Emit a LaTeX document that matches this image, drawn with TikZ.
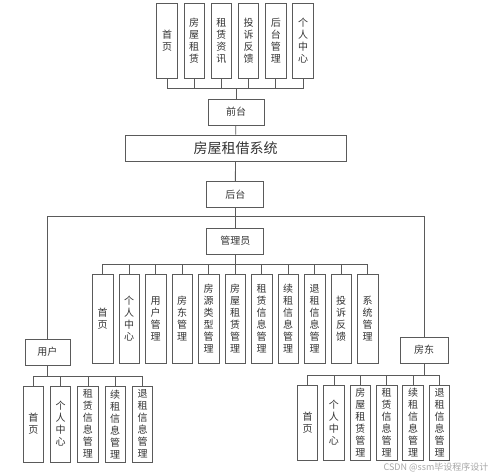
\documentclass[tikz,border=0pt]{standalone}
\usepackage{fontspec}
\newfontfamily\cjk{Noto Sans CJK SC}
\usepackage{tikz}

\definecolor{linegray}{HTML}{5A5A5A}
\definecolor{textgray}{HTML}{333333}

\tikzset{
    box/.style={draw=linegray, line width=0.8pt, inner sep=0pt, text=textgray,
        font=\cjk\fontsize{10}{12}\selectfont, minimum height=26pt},
    leaf/.style={box, anchor=north, align=center, minimum width=20.5pt},
    link/.style={draw=linegray, line width=0.8pt}
}

\begin{document}
\begin{tikzpicture}[x=1pt, y=-1pt]
        \useasboundingbox (0,0) rectangle (499,476);

        % Front end
        \node[leaf, minimum height=75pt] (q1) at (167,3) {首\\页};
        \node[leaf, minimum height=75pt] (q2) at (194.2,3) {房\\屋\\租\\赁};
        \node[leaf, minimum height=75pt] (q3) at (221.4,3) {租\\赁\\资\\讯};
        \node[leaf, minimum height=75pt] (q4) at (248.6,3) {投\\诉\\反\\馈};
        \node[leaf, minimum height=75pt] (q5) at (275.8,3) {后\\台\\管\\理};
        \node[leaf, minimum height=75pt] (q6) at (303,3) {个\\人\\中\\心};
        \node[box, minimum width=56pt] (front) at (236,112) {前台};

        % The system
        \node[box, minimum width=221pt, font=\cjk\fontsize{14}{16}\selectfont] (sys) at (235.5,148) {房屋租借系统};

        % Back end
        \node[box, minimum width=57pt] (back) at (235.3,194.5) {后台};
        \node[box, minimum width=57pt] (admin) at (235.3,241) {管理员};
        \node[box, minimum width=45pt] (user) at (47.5,352) {用户};
        \node[box, minimum width=48pt] (owner) at (424,350) {房东};

        % Admin items
        \node[leaf, minimum height=88.5pt] (a1) at (102.7,274.3) {首\\页};
        \node[leaf, minimum height=88.5pt] (a2) at (129.2,274.3) {个\\人\\中\\心};
        \node[leaf, minimum height=88.5pt] (a3) at (155.7,274.3) {用\\户\\管\\理};
        \node[leaf, minimum height=88.5pt] (a4) at (182.2,274.3) {房\\东\\管\\理};
        \node[leaf, minimum height=88.5pt] (a5) at (208.7,274.3) {房\\源\\类\\型\\管\\理};
        \node[leaf, minimum height=88.5pt] (a6) at (235.2,274.3) {房\\屋\\租\\赁\\管\\理};
        \node[leaf, minimum height=88.5pt] (a7) at (261.7,274.3) {租\\赁\\信\\息\\管\\理};
        \node[leaf, minimum height=88.5pt] (a8) at (288.2,274.3) {续\\租\\信\\息\\管\\理};
        \node[leaf, minimum height=88.5pt] (a9) at (314.7,274.3) {退\\租\\信\\息\\管\\理};
        \node[leaf, minimum height=88.5pt] (a10) at (341.2,274.3) {投\\诉\\反\\馈};
        \node[leaf, minimum height=88.5pt] (a11) at (367.7,274.3) {系\\统\\管\\理};

        % User items
        \node[leaf, minimum height=76pt] (u1) at (33.3,385.7) {首\\页};
        \node[leaf, minimum height=76pt] (u2) at (60.6,385.7) {个\\人\\中\\心};
        \node[leaf, minimum height=76pt] (u3) at (87.9,385.7) {租\\赁\\信\\息\\管\\理};
        \node[leaf, minimum height=76pt] (u4) at (115.2,385.7) {续\\租\\信\\息\\管\\理};
        \node[leaf, minimum height=76pt] (u5) at (142.5,385.7) {退\\租\\信\\息\\管\\理};

        % Owner items
        \node[leaf, minimum height=75pt] (o1) at (307.5,385) {首\\页};
        \node[leaf, minimum height=75pt] (o2) at (333.9,385) {个\\人\\中\\心};
        \node[leaf, minimum height=75pt] (o3) at (360.3,385) {房\\屋\\租\\赁\\管\\理};
        \node[leaf, minimum height=75pt] (o4) at (386.7,385) {租\\赁\\信\\息\\管\\理};
        \node[leaf, minimum height=75pt] (o5) at (413.1,385) {续\\租\\信\\息\\管\\理};
        \node[leaf, minimum height=75pt] (o6) at (439.5,385) {退\\租\\信\\息\\管\\理};

        % Bus points
        \coordinate (qbus) at (236,88);
        \coordinate (abus) at (235.3,264.3);
        \coordinate (ubus) at (47.5,376.7);
        \coordinate (obus) at (424,375.7);
        \coordinate (split) at (235.3,216.5);

        % Draw the links
        \draw[link] (front) -- (qbus);
        \foreach \i in {1,...,6} \draw[link] (q\i.south) |- (qbus);
        \draw[link] (front) -- (sys);
        \draw[link] (sys) -- (back);
        \draw[link] (back) -- (admin);
        \draw[link] (user) |- (split);
        \draw[link] (owner) |- (split);
        \draw[link] (admin) -- (abus);
        \foreach \i in {1,...,11} \draw[link] (a\i.north) |- (abus);
        \draw[link] (user) -- (ubus);
        \foreach \i in {1,...,5} \draw[link] (u\i.north) |- (ubus);
        \draw[link] (owner) -- (obus);
        \foreach \i in {1,...,6} \draw[link] (o\i.north) |- (obus);

        % Watermark
        \node[text=gray!70, font=\cjk\fontsize{9}{10}\selectfont, anchor=east] (mark) at (492,467) {CSDN @ssm毕设程序设计};
\end{tikzpicture}
\end{document}
